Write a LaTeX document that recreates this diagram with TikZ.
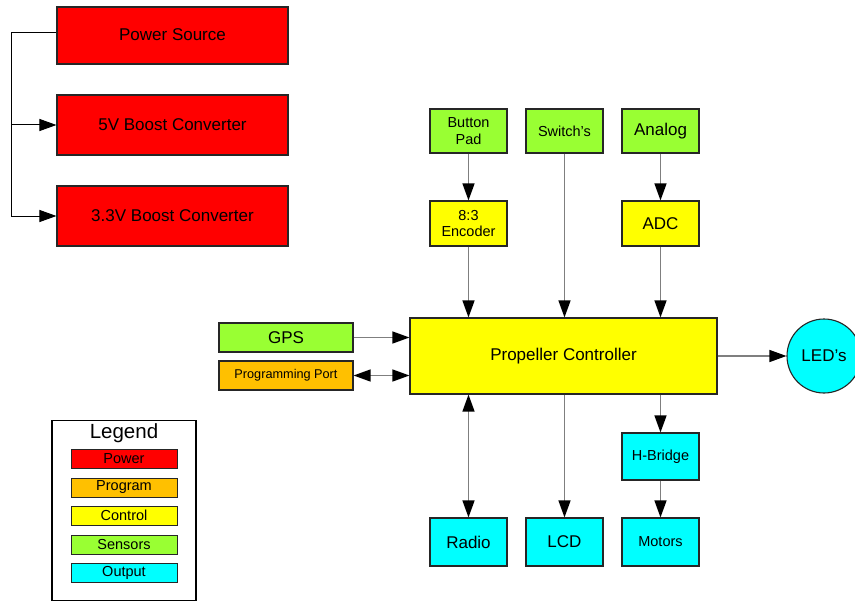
\documentclass[tikz,border=0pt]{standalone}
\usepackage{fontspec}
\setmainfont{Liberation Sans}
\usetikzlibrary{arrows.meta}
\definecolor{cpower}{HTML}{FF0000}
\definecolor{cprog}{HTML}{FFC000}
\definecolor{cctrl}{HTML}{FFFF00}
\definecolor{csens}{HTML}{99FF33}
\definecolor{cout}{HTML}{00FFFF}
\definecolor{cline}{HTML}{7F7F7F}
\tikzset{
  blk/.style={draw=black!85, line width=1.1pt, inner sep=0pt, align=center, font=\fontsize{17}{19}\selectfont},
  smallf/.style={font=\fontsize{14.5}{16.5}\selectfont},
  tip/.style={-{Triangle[length=17pt,width=12pt,fill=black,color=black]}},
  conn/.style={draw=cline, line width=1.3pt, tip},
  bconn/.style={draw=cline, line width=1.3pt, {Triangle[length=17pt,width=12pt,fill=black,color=black]}-{Triangle[length=17pt,width=12pt,fill=black,color=black]}},
  pconn/.style={draw=black, line width=1pt},
  leg/.style={draw=black!85, line width=1pt, minimum width=106pt, minimum height=19pt, inner sep=0pt, font=\fontsize{14.5}{16}\selectfont},
}
\begin{document}
\begin{tikzpicture}[x=1pt,y=-1pt]
\useasboundingbox (0,0) rectangle (855,602);
% power section
\node[blk, fill=cpower, minimum width=231pt, minimum height=57pt] (ps) at (172.5,35.5) {\raisebox{2.5pt}{Power Source}};
\node[blk, fill=cpower, minimum width=231pt, minimum height=60pt] (b5) at (172.5,125) {5V Boost Converter};
\node[blk, fill=cpower, minimum width=231pt, minimum height=60pt] (b33) at (172.5,216) {3.3V Boost Converter};
\coordinate (trunk) at (11,33);
\draw[pconn] (trunk -| ps.west) -- (trunk) -- (trunk |- b5.west);
\draw[pconn, tip] (trunk |- b5.west) |- (b33.west);
\draw[pconn, tip] (trunk |- b5.west) -- (b5.west);
% sensors top
\node[blk, smallf, fill=csens, minimum width=77pt, minimum height=44pt] (bp) at (468.5,131) {Button\\Pad};
\node[blk, smallf, fill=csens, minimum width=77pt, minimum height=44pt] (sw) at (564.5,131) {Switch’s};
\node[blk, fill=csens, minimum width=77pt, minimum height=44pt] (an) at (660.5,131) {Analog};
\node[blk, smallf, fill=cctrl, minimum width=77pt, minimum height=45pt] (enc) at (468.5,223.5) {8:3\\Encoder};
\node[blk, fill=cctrl, minimum width=77pt, minimum height=45pt] (adc) at (660.5,223.5) {ADC};
% controller
\node[blk, fill=cctrl, minimum width=307pt, minimum height=76pt] (ctrl) at (563.5,356) {Propeller Controller};
\node[blk, fill=csens, minimum width=134pt, minimum height=29pt] (gps) at (286,337.5) {GPS};
\node[blk, fill=cprog, minimum width=134pt, minimum height=29pt, font=\fontsize{12.7}{14}\selectfont] (pp) at (286,375.5) {Programming Port};
\node[blk, circle, fill=cout, minimum size=74pt] (led) at (824,356) {LED’s};
% outputs
\node[blk, fill=cout, minimum width=77pt, minimum height=48pt] (radio) at (468.5,542) {Radio};
\node[blk, fill=cout, minimum width=77pt, minimum height=48pt] (lcd) at (564.5,542) {LCD};
\node[blk, smallf, fill=cout, minimum width=77pt, minimum height=48pt] (mot) at (660.5,542) {Motors};
\node[blk, smallf, fill=cout, minimum width=77pt, minimum height=47pt] (hb) at (660.5,456.5) {H-Bridge};
% connectors
\draw[conn] (bp.south) -- (enc.north);
\draw[conn] (an.south) -- (adc.north);
\draw[conn] (enc.south) -- (enc.south |- ctrl.north);
\draw[conn] (sw.south) -- (sw.south |- ctrl.north);
\draw[conn] (adc.south) -- (adc.south |- ctrl.north);
\draw[conn] (gps.east) -- (gps.east -| ctrl.west);
\draw[bconn] (pp.east) -- (pp.east -| ctrl.west);
\draw[conn] (ctrl.east) -- (led.west);
\draw[bconn] (radio.north |- ctrl.south) -- (radio.north);
\draw[conn] (lcd.north |- ctrl.south) -- (lcd.north);
\draw[conn] (hb.north |- ctrl.south) -- (hb.north);
\draw[conn] (hb.south) -- (mot.north);
% legend
\node[draw=black, line width=1.6pt, minimum width=144pt, minimum height=180pt, inner sep=0pt] (legbox) at (124,510.5) {};
\node[font=\fontsize{20.5}{22}\selectfont, inner sep=0pt] (legt) at (124,433.5) {Legend};
\node[leg, fill=cpower] (l1) at (124,458.5) {Power};
\node[leg, fill=cprog] (l2) at (124,487.5) {Program};
\node[leg, fill=cctrl] (l3) at (124,515.5) {Control};
\node[leg, fill=csens] (l4) at (124,544.5) {Sensors};
\node[leg, fill=cout] (l5) at (124,572.5) {Output};
\end{tikzpicture}
\end{document}
